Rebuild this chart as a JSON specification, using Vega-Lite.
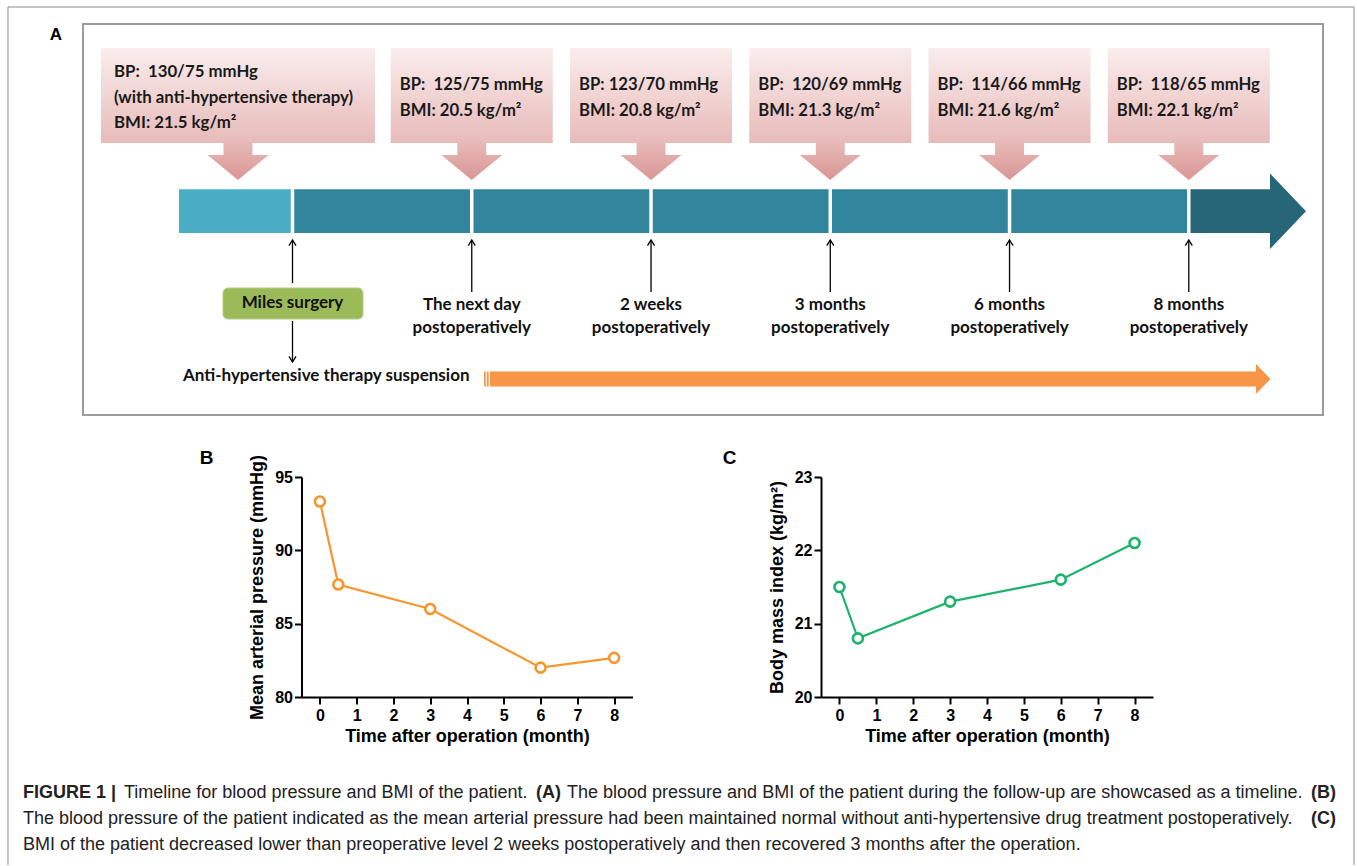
{
  "$schema": "https://vega.github.io/schema/vega-lite/v6.json",
  "padding": {"left": 6, "top": 5, "right": 0, "bottom": 0},
  "background": "white",
  "bounds": "flush",
  "spacing": 62,
  "config": {
    "font": "Liberation Sans",
    "view": {"stroke": null},
    "axis": {
      "grid": false,
      "domainColor": "black",
      "domainWidth": 2,
      "tickColor": "black",
      "tickWidth": 2,
      "tickSize": 7,
      "labelFont": "Liberation Sans",
      "labelFontWeight": "bold",
      "labelFontSize": 16,
      "labelColor": "black",
      "labelFlush": false,
      "titleFont": "Liberation Sans",
      "titleFontWeight": "bold",
      "titleFontSize": 18,
      "titleColor": "black"
    }
  },
  "datasets": {
    "preop": [
      {"stage": "Preoperative", "bp": "BP:\u00a0 130/75 mmHg", "note": "(with anti-hypertensive therapy)", "bmi": "BMI: 21.5 kg/m²"}
    ],
    "followup": [
      {"order": 1, "time": "The next day", "phase": "postoperatively", "bp": "BP:\u00a0 125/75 mmHg", "bmi": "BMI: 20.5 kg/m²"},
      {"order": 2, "time": "2 weeks", "phase": "postoperatively", "bp": "BP: 123/70 mmHg", "bmi": "BMI: 20.8 kg/m²"},
      {"order": 3, "time": "3 months", "phase": "postoperatively", "bp": "BP:\u00a0 120/69 mmHg", "bmi": "BMI: 21.3 kg/m²"},
      {"order": 4, "time": "6 months", "phase": "postoperatively", "bp": "BP:\u00a0 114/66 mmHg", "bmi": "BMI: 21.6 kg/m²"},
      {"order": 5, "time": "8 months", "phase": "postoperatively", "bp": "BP:\u00a0 118/65 mmHg", "bmi": "BMI: 22.1 kg/m²"}
    ],
    "surgery": [
      {"order": 0, "event": "Miles surgery", "after": "Anti-hypertensive therapy suspension"}
    ],
    "map": [
      {"month": 0, "map": 93.33},
      {"month": 0.5, "map": 87.67},
      {"month": 3, "map": 86.0},
      {"month": 6, "map": 82.0},
      {"month": 8, "map": 82.67}
    ],
    "bmi": [
      {"month": 0, "bmi": 21.5},
      {"month": 0.5, "bmi": 20.8},
      {"month": 3, "bmi": 21.3},
      {"month": 6, "bmi": 21.6},
      {"month": 8, "bmi": 22.1}
    ]
  },
  "vconcat": [
    {
      "width": 1240,
      "height": 391,
      "view": {"stroke": "#9b9b9b", "strokeWidth": 2},
      "layer": [
        {
          "data": {"values": [{}]},
          "mark": {"type": "rule", "color": "#8a8a8a", "strokeWidth": 1},
          "encoding": {
            "x": {"datum": -1.58708, "type": "quantitative", "scale": {"domain": [-1.16869, 5.74863], "nice": false, "zero": false}, "axis": null},
            "x2": {"datum": 5.92157},
            "y": {"datum": -17, "type": "quantitative", "scale": {"domain": [0, 391], "reverse": true, "nice": false, "zero": false}, "axis": null}
          }
        },
        {
          "data": {"values": [{}]},
          "mark": {"type": "rule", "color": "#8a8a8a", "strokeWidth": 1},
          "encoding": {
            "x": {"datum": -1.58708, "type": "quantitative", "axis": null},
            "y": {"datum": -17, "type": "quantitative", "axis": null},
            "y2": {"datum": 841}
          }
        },
        {
          "data": {"values": [{}]},
          "mark": {"type": "rule", "color": "#8a8a8a", "strokeWidth": 1},
          "encoding": {
            "x": {"datum": 5.92157, "type": "quantitative", "axis": null},
            "y": {"datum": -17, "type": "quantitative", "axis": null},
            "y2": {"datum": 841}
          }
        },
        {
          "data": {"values": [{"panel": "A"}]},
          "mark": {"type": "text", "font": "Liberation Sans", "fontWeight": "bold", "fontSize": 17, "color": "black", "align": "center", "baseline": "middle"},
          "encoding": {
            "x": {"datum": -1.31931, "type": "quantitative", "axis": null},
            "y": {"datum": 11, "type": "quantitative", "axis": null},
            "text": {"field": "panel"}
          }
        },
        {
          "data": {"name": "preop"},
          "mark": {
            "type": "point", "filled": true, "opacity": 1, "strokeWidth": 0, "size": 75076,
            "shape": "M-1,-0.9635L1,-0.9635L1,-0.2701L0.1058,-0.2701L0.1058,-0.1825L0.2226,-0.1825L0,0L-0.2226,-0.1825L-0.1058,-0.1825L-0.1058,-0.2701L-1,-0.2701Z",
            "fill": {"gradient": "linear", "x1": 0, "y1": 0, "x2": 0, "y2": 1, "stops": [{"offset": 0, "color": "#FAEDED"}, {"offset": 0.7, "color": "#E8BCBB"}, {"offset": 1, "color": "#D99694"}]}
          },
          "encoding": {
            "x": {"datum": -0.30403, "type": "quantitative", "axis": null},
            "y": {"datum": 156, "type": "quantitative", "axis": null}
          }
        },
        {
          "data": {"name": "followup"},
          "mark": {
            "type": "point", "filled": true, "opacity": 1, "strokeWidth": 0, "size": 26244,
            "shape": "M-1,-1.6296L1,-1.6296L1,-0.4568L0.179,-0.4568L0.179,-0.3086L0.3765,-0.3086L0,0L-0.3765,-0.3086L-0.179,-0.3086L-0.179,-0.4568L-1,-0.4568Z",
            "fill": {"gradient": "linear", "x1": 0, "y1": 0, "x2": 0, "y2": 1, "stops": [{"offset": 0, "color": "#FAEDED"}, {"offset": 0.7, "color": "#E8BCBB"}, {"offset": 1, "color": "#D99694"}]}
          },
          "encoding": {
            "x": {"field": "order", "type": "quantitative", "axis": null},
            "y": {"datum": 156, "type": "quantitative", "axis": null}
          }
        },
        {
          "data": {"name": "preop"},
          "mark": {"type": "text", "font": "Lato", "fontWeight": "bold", "fontSize": 16.8, "color": "#1a1a1a", "align": "left", "baseline": "middle", "dx": -124},
          "encoding": {
            "x": {"datum": -0.30403, "type": "quantitative", "axis": null},
            "y": {"datum": 48, "type": "quantitative", "axis": null},
            "text": {"field": "bp"}
          }
        },
        {
          "data": {"name": "preop"},
          "mark": {"type": "text", "font": "Lato", "fontWeight": "bold", "fontSize": 16.8, "color": "#1a1a1a", "align": "left", "baseline": "middle", "dx": -124},
          "encoding": {
            "x": {"datum": -0.30403, "type": "quantitative", "axis": null},
            "y": {"datum": 73.5, "type": "quantitative", "axis": null},
            "text": {"field": "note"}
          }
        },
        {
          "data": {"name": "preop"},
          "mark": {"type": "text", "font": "Lato", "fontWeight": "bold", "fontSize": 16.8, "color": "#1a1a1a", "align": "left", "baseline": "middle", "dx": -124},
          "encoding": {
            "x": {"datum": -0.30403, "type": "quantitative", "axis": null},
            "y": {"datum": 98.5, "type": "quantitative", "axis": null},
            "text": {"field": "bmi"}
          }
        },
        {
          "data": {"name": "followup"},
          "mark": {"type": "text", "font": "Lato", "fontWeight": "bold", "fontSize": 16.7, "color": "#1a1a1a", "align": "left", "baseline": "middle", "dx": -72},
          "encoding": {
            "x": {"field": "order", "type": "quantitative", "axis": null},
            "y": {"datum": 60.5, "type": "quantitative", "axis": null},
            "text": {"field": "bp"}
          }
        },
        {
          "data": {"name": "followup"},
          "mark": {"type": "text", "font": "Lato", "fontWeight": "bold", "fontSize": 16.7, "color": "#1a1a1a", "align": "left", "baseline": "middle", "dx": -72},
          "encoding": {
            "x": {"field": "order", "type": "quantitative", "axis": null},
            "y": {"datum": 87, "type": "quantitative", "axis": null},
            "text": {"field": "bmi"}
          }
        },
        {
          "data": {"values": [{}]},
          "mark": {"type": "rect", "color": "#4BACC6"},
          "encoding": {
            "x": {"datum": -0.63316, "type": "quantitative", "axis": null},
            "x2": {"datum": 0},
            "y": {"datum": 165.3, "type": "quantitative", "axis": null},
            "y2": {"datum": 209}
          }
        },
        {
          "data": {"values": [{}]},
          "mark": {"type": "rect", "color": "#31859C"},
          "encoding": {
            "x": {"datum": 0, "type": "quantitative", "axis": null},
            "x2": {"datum": 5},
            "y": {"datum": 165.3, "type": "quantitative", "axis": null},
            "y2": {"datum": 209}
          }
        },
        {
          "data": {"values": [{}]},
          "mark": {"type": "rect", "color": "#276678"},
          "encoding": {
            "x": {"datum": 5, "type": "quantitative", "axis": null},
            "x2": {"datum": 5.45297},
            "y": {"datum": 165.3, "type": "quantitative", "axis": null},
            "y2": {"datum": 209}
          }
        },
        {
          "data": {"values": [{}]},
          "mark": {"type": "point", "filled": true, "opacity": 1, "color": "#276678", "strokeWidth": 0, "size": 5700, "shape": "M0,-1L0.9536,0L0,1Z"},
          "encoding": {
            "x": {"datum": 5.45297, "type": "quantitative", "axis": null},
            "y": {"datum": 187.15, "type": "quantitative", "axis": null}
          }
        },
        {
          "data": {"name": "followup"},
          "mark": {"type": "rule", "color": "white", "strokeWidth": 3.5},
          "encoding": {
            "x": {"field": "order", "type": "quantitative", "axis": null},
            "y": {"datum": 164, "type": "quantitative", "axis": null},
            "y2": {"datum": 210.5}
          }
        },
        {
          "data": {"name": "surgery"},
          "mark": {"type": "rule", "color": "white", "strokeWidth": 3.5},
          "encoding": {
            "x": {"field": "order", "type": "quantitative", "axis": null},
            "y": {"datum": 164, "type": "quantitative", "axis": null},
            "y2": {"datum": 210.5}
          }
        },
        {
          "data": {"name": "followup"},
          "mark": {"type": "rule", "color": "black", "strokeWidth": 1.3},
          "encoding": {
            "x": {"field": "order", "type": "quantitative", "axis": null},
            "y": {"datum": 216.5, "type": "quantitative", "axis": null},
            "y2": {"datum": 268}
          }
        },
        {
          "data": {"name": "followup"},
          "mark": {"type": "point", "filled": false, "opacity": 1, "color": "black", "strokeWidth": 1.3, "size": 49, "shape": "M-1,1.6L0,0L1,1.6"},
          "encoding": {
            "x": {"field": "order", "type": "quantitative", "axis": null},
            "y": {"datum": 216, "type": "quantitative", "axis": null}
          }
        },
        {
          "data": {"name": "surgery"},
          "mark": {"type": "rule", "color": "black", "strokeWidth": 1.3},
          "encoding": {
            "x": {"field": "order", "type": "quantitative", "axis": null},
            "y": {"datum": 216.5, "type": "quantitative", "axis": null},
            "y2": {"datum": 259}
          }
        },
        {
          "data": {"name": "surgery"},
          "mark": {"type": "point", "filled": false, "opacity": 1, "color": "black", "strokeWidth": 1.3, "size": 49, "shape": "M-1,1.6L0,0L1,1.6"},
          "encoding": {
            "x": {"field": "order", "type": "quantitative", "axis": null},
            "y": {"datum": 216, "type": "quantitative", "axis": null}
          }
        },
        {
          "data": {"name": "followup"},
          "mark": {"type": "text", "font": "Lato", "fontWeight": "bold", "fontSize": 17, "color": "#111111", "align": "center", "baseline": "middle"},
          "encoding": {
            "x": {"field": "order", "type": "quantitative", "axis": null},
            "y": {"datum": 281, "type": "quantitative", "axis": null},
            "text": {"field": "time"}
          }
        },
        {
          "data": {"name": "followup"},
          "mark": {"type": "text", "font": "Lato", "fontWeight": "bold", "fontSize": 17, "color": "#111111", "align": "center", "baseline": "middle"},
          "encoding": {
            "x": {"field": "order", "type": "quantitative", "axis": null},
            "y": {"datum": 304, "type": "quantitative", "axis": null},
            "text": {"field": "phase"}
          }
        },
        {
          "data": {"values": [{}]},
          "mark": {"type": "rect", "color": "#9BBB59", "cornerRadius": 5, "stroke": "#B4CC84", "strokeWidth": 1},
          "encoding": {
            "x": {"datum": -0.38771, "type": "quantitative", "axis": null},
            "x2": {"datum": 0.39329},
            "y": {"datum": 264, "type": "quantitative", "axis": null},
            "y2": {"datum": 295}
          }
        },
        {
          "data": {"name": "surgery"},
          "mark": {"type": "text", "font": "Lato", "fontWeight": "bold", "fontSize": 17, "color": "#111111", "align": "center", "baseline": "middle"},
          "encoding": {
            "x": {"field": "order", "type": "quantitative", "axis": null},
            "y": {"datum": 279, "type": "quantitative", "axis": null},
            "text": {"field": "event"}
          }
        },
        {
          "data": {"name": "surgery"},
          "mark": {"type": "rule", "color": "black", "strokeWidth": 1.3},
          "encoding": {
            "x": {"field": "order", "type": "quantitative", "axis": null},
            "y": {"datum": 297, "type": "quantitative", "axis": null},
            "y2": {"datum": 337.5}
          }
        },
        {
          "data": {"name": "surgery"},
          "mark": {"type": "point", "filled": false, "opacity": 1, "color": "black", "strokeWidth": 1.3, "size": 49, "shape": "M-1,-1.6L0,0L1,-1.6"},
          "encoding": {
            "x": {"field": "order", "type": "quantitative", "axis": null},
            "y": {"datum": 338, "type": "quantitative", "axis": null}
          }
        },
        {
          "data": {"name": "surgery"},
          "mark": {"type": "text", "font": "Lato", "fontWeight": "bold", "fontSize": 17, "color": "#111111", "align": "left", "baseline": "middle"},
          "encoding": {
            "x": {"datum": -0.61084, "type": "quantitative", "axis": null},
            "y": {"datum": 352, "type": "quantitative", "axis": null},
            "text": {"field": "after"}
          }
        },
        {
          "data": {"values": [{}]},
          "mark": {"type": "rect", "color": "#F79646"},
          "encoding": {
            "x": {"datum": 1.06828, "type": "quantitative", "axis": null},
            "x2": {"datum": 1.07776},
            "y": {"datum": 347.5, "type": "quantitative", "axis": null},
            "y2": {"datum": 362.5}
          }
        },
        {
          "data": {"values": [{}]},
          "mark": {"type": "rect", "color": "#F79646"},
          "encoding": {
            "x": {"datum": 1.0839, "type": "quantitative", "axis": null},
            "x2": {"datum": 1.0945},
            "y": {"datum": 347.5, "type": "quantitative", "axis": null},
            "y2": {"datum": 362.5}
          }
        },
        {
          "data": {"values": [{}]},
          "mark": {"type": "rect", "color": "#F79646"},
          "encoding": {
            "x": {"datum": 1.10175, "type": "quantitative", "axis": null},
            "x2": {"datum": 5.37488},
            "y": {"datum": 347.5, "type": "quantitative", "axis": null},
            "y2": {"datum": 362.5}
          }
        },
        {
          "data": {"values": [{}]},
          "mark": {"type": "point", "filled": true, "opacity": 1, "color": "#F79646", "strokeWidth": 0, "size": 900, "shape": "M0,-1L0.9667,0L0,1Z"},
          "encoding": {
            "x": {"datum": 5.37488, "type": "quantitative", "axis": null},
            "y": {"datum": 355, "type": "quantitative", "axis": null}
          }
        }
      ]
    },
    {
      "bounds": "flush",
      "spacing": 188.5,
      "hconcat": [
        {
          "width": 29.5,
          "height": 220,
          "data": {"values": []},
          "mark": "point",
          "encoding": {}
        },
        {
          "width": 331,
          "height": 220,
          "layer": [
            {
              "data": {"name": "map"},
              "mark": {"type": "line", "color": "#F7962F", "strokeWidth": 2.2},
              "encoding": {
                "x": {"field": "month", "type": "quantitative", "scale": {"domain": [-0.5, 8.5], "nice": false, "zero": false}, "axis": {"values": [0, 1, 2, 3, 4, 5, 6, 7, 8], "format": "d", "title": "Time after operation (month)", "labelPadding": 3, "titlePadding": 4}},
                "y": {"field": "map", "type": "quantitative", "scale": {"domain": [80, 95], "nice": false, "zero": false}, "axis": {"values": [80, 85, 90, 95], "format": "d", "title": "Mean arterial pressure (mmHg)", "labelPadding": 2, "titlePadding": 8}}
              }
            },
            {
              "data": {"name": "map"},
              "mark": {"type": "point", "filled": true, "fill": "white", "stroke": "#F7962F", "strokeWidth": 2.6, "size": 100, "opacity": 1},
              "encoding": {
                "x": {"field": "month", "type": "quantitative"},
                "y": {"field": "map", "type": "quantitative"}
              }
            },
            {
              "data": {"values": [{"panel": "B"}]},
              "mark": {"type": "text", "font": "Liberation Sans", "fontWeight": "bold", "fontSize": 19, "color": "black", "align": "center", "baseline": "middle"},
              "encoding": {
                "x": {"datum": -3.083, "type": "quantitative"},
                "y": {"datum": 96.3, "type": "quantitative"},
                "text": {"field": "panel"}
              }
            }
          ]
        },
        {
          "width": 332,
          "height": 220,
          "layer": [
            {
              "data": {"name": "bmi"},
              "mark": {"type": "line", "color": "#1DB36C", "strokeWidth": 2.2},
              "encoding": {
                "x": {"field": "month", "type": "quantitative", "scale": {"domain": [-0.5, 8.5], "nice": false, "zero": false}, "axis": {"values": [0, 1, 2, 3, 4, 5, 6, 7, 8], "format": "d", "title": "Time after operation (month)", "labelPadding": 3, "titlePadding": 4}},
                "y": {"field": "bmi", "type": "quantitative", "scale": {"domain": [20, 23], "nice": false, "zero": false}, "axis": {"values": [20, 21, 22, 23], "format": "d", "title": "Body mass index (kg/m²)", "labelPadding": 2, "titlePadding": 8}}
              }
            },
            {
              "data": {"name": "bmi"},
              "mark": {"type": "point", "filled": true, "fill": "white", "stroke": "#1DB36C", "strokeWidth": 2.6, "size": 100, "opacity": 1},
              "encoding": {
                "x": {"field": "month", "type": "quantitative"},
                "y": {"field": "bmi", "type": "quantitative"}
              }
            },
            {
              "data": {"values": [{"panel": "C"}]},
              "mark": {"type": "text", "font": "Liberation Sans", "fontWeight": "bold", "fontSize": 19, "color": "black", "align": "center", "baseline": "middle"},
              "encoding": {
                "x": {"datum": -2.978, "type": "quantitative"},
                "y": {"datum": 23.259, "type": "quantitative"},
                "text": {"field": "panel"}
              }
            }
          ]
        }
      ]
    },
    {
      "width": 1240,
      "height": 320,
      "encoding": {
        "y": {"field": "line", "type": "quantitative", "scale": {"domain": [-8.76923, 3.53846], "reverse": true, "nice": false, "zero": false}, "axis": null}
      },
      "layer": [
        {
          "data": {"values": [{"line": 1, "text": "FIGURE 1 |"}]},
          "mark": {"type": "text", "font": "Liberation Sans", "fontWeight": "bold", "fontSize": 18, "color": "#222222", "align": "left", "baseline": "middle"},
          "encoding": {
            "x": {"datum": 0, "type": "quantitative", "scale": {"domain": [0.045697, 0.9901], "nice": false, "zero": false}, "axis": null},
            "text": {"field": "text"}
          }
        },
        {
          "data": {"values": [{"line": 1, "text": "Timeline for blood pressure and BMI of the patient."}]},
          "mark": {"type": "text", "font": "Liberation Sans", "fontSize": 18, "color": "#222222", "align": "left", "baseline": "middle", "dx": 101},
          "encoding": {
            "x": {"datum": 0, "type": "quantitative", "axis": null},
            "text": {"field": "text"}
          }
        },
        {
          "data": {"values": [{"line": 1, "text": "(A)"}]},
          "mark": {"type": "text", "font": "Liberation Sans", "fontWeight": "bold", "fontSize": 18, "color": "#222222", "align": "left", "baseline": "middle", "dx": 513},
          "encoding": {
            "x": {"datum": 0, "type": "quantitative", "axis": null},
            "text": {"field": "text"}
          }
        },
        {
          "data": {"values": [{"line": 1, "text": "The blood pressure and BMI of the patient during the follow-up are showcased as a timeline."}]},
          "mark": {"type": "text", "font": "Liberation Sans", "fontSize": 18, "color": "#222222", "align": "left", "baseline": "middle", "dx": 544},
          "encoding": {
            "x": {"datum": 0, "type": "quantitative", "axis": null},
            "text": {"field": "text"}
          }
        },
        {
          "data": {"values": [{"line": 1, "text": "(B)"}, {"line": 2, "text": "(C)"}]},
          "mark": {"type": "text", "font": "Liberation Sans", "fontWeight": "bold", "fontSize": 18, "color": "#222222", "align": "right", "baseline": "middle"},
          "encoding": {
            "x": {"datum": 1, "type": "quantitative", "axis": null},
            "text": {"field": "text"}
          }
        },
        {
          "data": {"values": [
            {"line": 2, "text": "The blood pressure of the patient indicated as the mean arterial pressure had been maintained normal without anti-hypertensive drug treatment postoperatively."},
            {"line": 3, "text": "BMI of the patient decreased lower than preoperative level 2 weeks postoperatively and then recovered 3 months after the operation."}
          ]},
          "mark": {"type": "text", "font": "Liberation Sans", "fontSize": 18, "color": "#222222", "align": "left", "baseline": "middle"},
          "encoding": {
            "x": {"datum": 0, "type": "quantitative", "axis": null},
            "text": {"field": "text"}
          }
        }
      ]
    }
  ]
}
